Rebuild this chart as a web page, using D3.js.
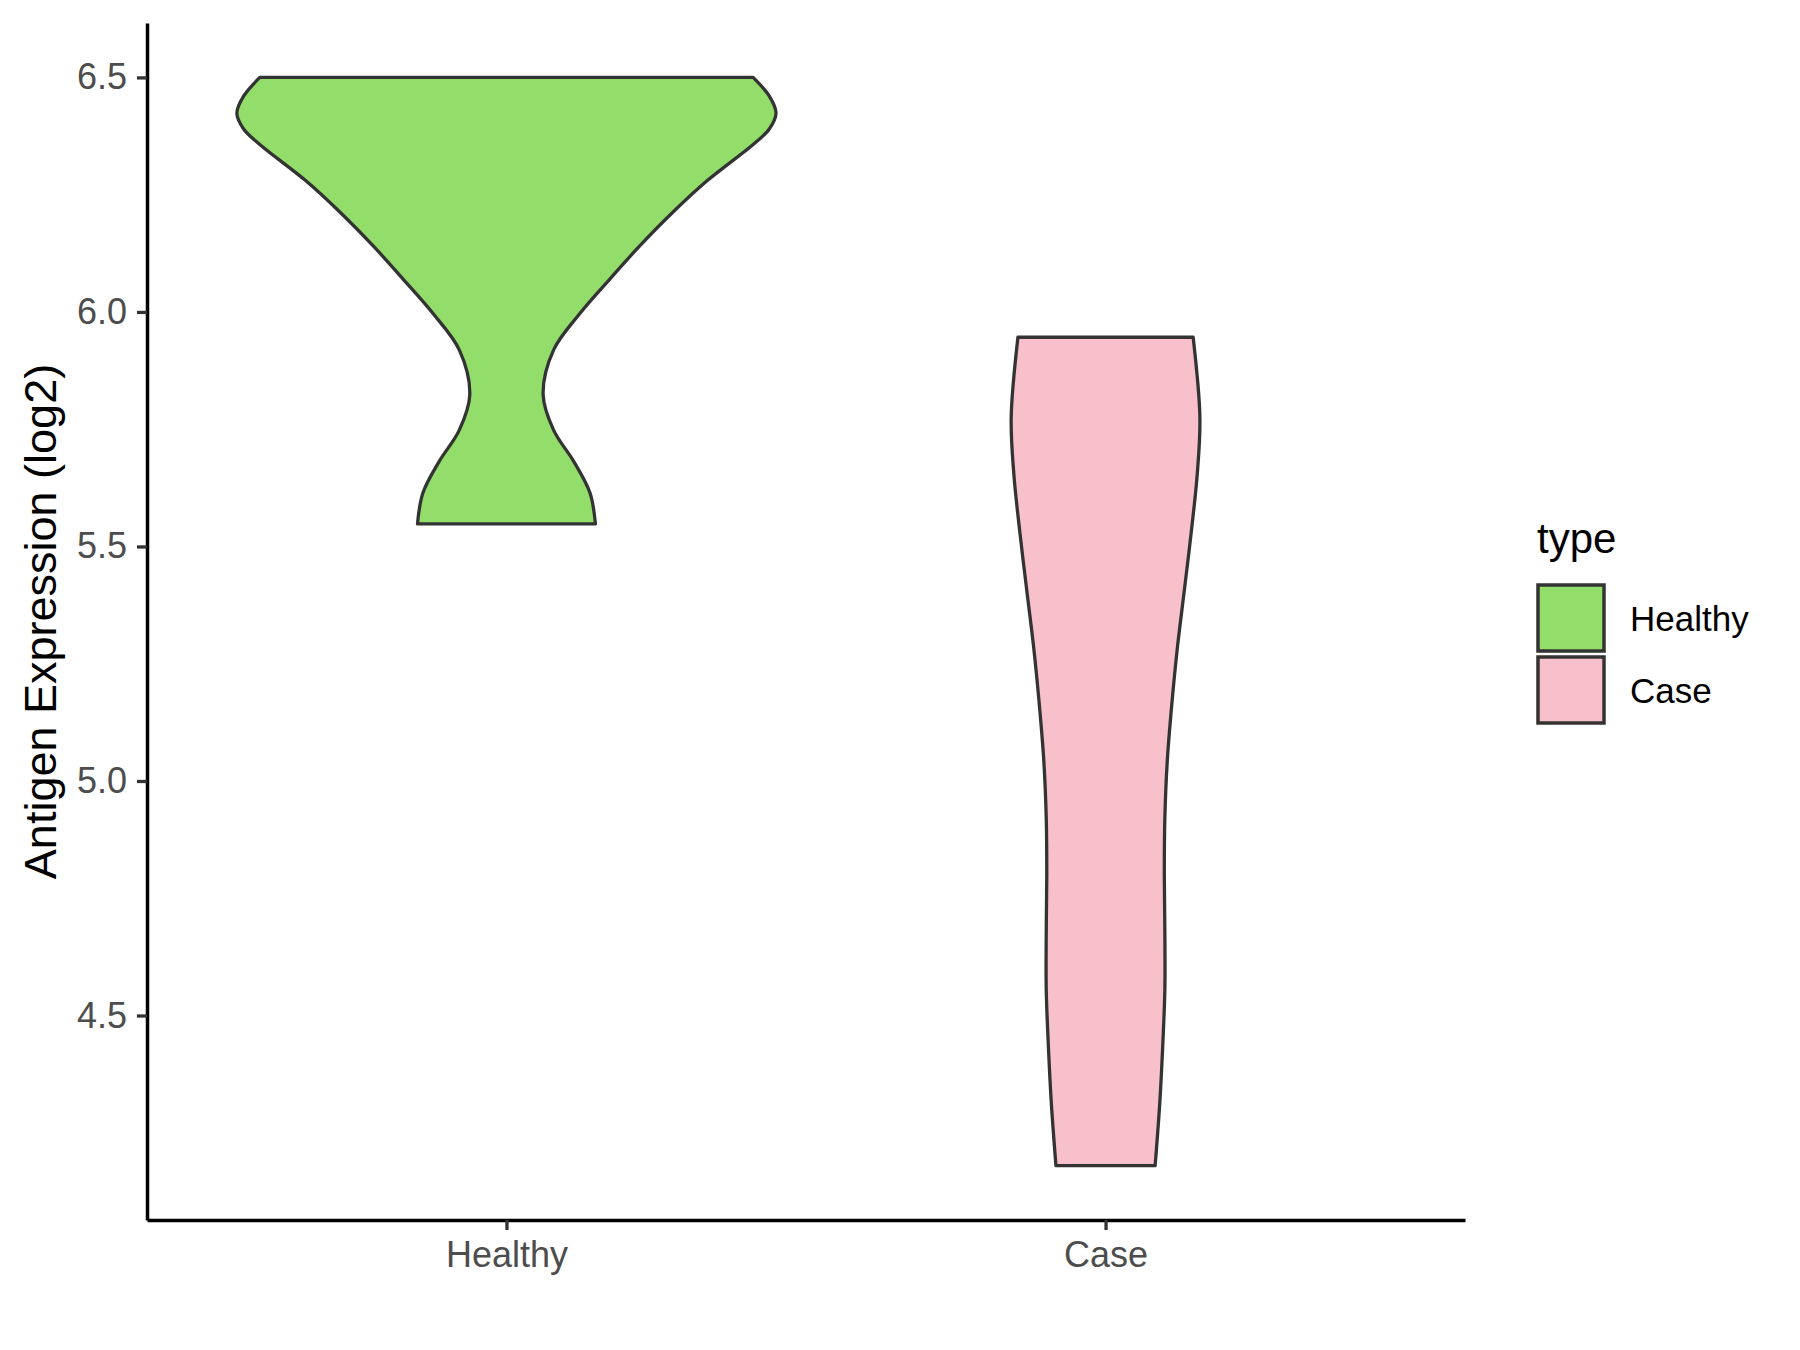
<!DOCTYPE html>
<html>
<head>
<meta charset="utf-8">
<script src="https://cdn.jsdelivr.net/npm/d3@7"></script>
<style>
  body { margin: 0; background: #fff; }
  svg { display: block; font-family: Arial, "Liberation Sans", sans-serif; }
</style>
</head>
<body>
<svg id="chart" width="1800" height="1350"></svg>
<script>
// Données

const groups = ["Healthy", "Case"];
const colors = ["#93DD6A", "#F7C0CB"];

// profils de densité (valeur, largeur relative)
const healthyValues = [6.5, 6.46, 6.424, 6.39, 6.357, 6.28, 6.214, 6.138, 6.071, 5.995, 5.919, 5.824, 5.748, 5.681, 5.614, 5.548];
const healthyDensity = [0.915, 0.975, 1.0, 0.975, 0.915, 0.745, 0.62, 0.49, 0.385, 0.27, 0.175, 0.136, 0.175, 0.25, 0.31, 0.33];

const caseValues = [5.946, 5.775, 5.653, 5.531, 5.41, 5.287, 5.165, 5.043, 4.921, 4.8, 4.678, 4.556, 4.434, 4.312, 4.18];
const caseDensity = [0.325, 0.35, 0.34, 0.318, 0.293, 0.267, 0.246, 0.229, 0.22, 0.218, 0.22, 0.22, 0.212, 0.201, 0.184];

const yTicks = [4.5, 5.0, 5.5, 6.0, 6.5];
const yTitle = "Antigen Expression (log2)";
const legendTitle = "type";

// Dimensions

const margin = { left: 147, right: 1465, top: 23, bottom: 1220 };
const svg = d3.select("#chart");

const y = d3.scaleLinear().domain([4.064, 6.616]).range([margin.bottom, margin.top]);
const x = d3.scalePoint().domain(groups).range([margin.left, margin.right]).padding(0.6);
const halfMax = x.step() * 0.45;

// Violons

const profiles = [
  healthyValues.map((v, i) => ({ v: v, d: healthyDensity[i] })),
  caseValues.map((v, i) => ({ v: v, d: caseDensity[i] })),
];

groups.forEach((g, i) => {
  const cx = x(g);
  const area = d3
    .area()
    .curve(d3.curveCatmullRom)
    .y((d) => y(d.v))
    .x0((d) => cx - d.d * halfMax)
    .x1((d) => cx + d.d * halfMax);

  svg
    .append("path")
    .datum(profiles[i])
    .attr("d", area)
    .attr("fill", colors[i])
    .attr("stroke", "#333333")
    .attr("stroke-width", 3.3)
    .attr("stroke-linejoin", "round");
});

// Axes

const yAxis = svg
  .append("g")
  .attr("transform", "translate(" + margin.left + ",0)")
  .call(
    d3.axisLeft(y)
      .tickValues(yTicks)
      .tickFormat(d3.format(".1f"))
      .tickSize(10)
      .tickSizeOuter(0)
      .tickPadding(10)
  );

const xAxis = svg
  .append("g")
  .attr("transform", "translate(0," + margin.bottom + ")")
  .call(d3.axisBottom(x).tickSize(10).tickSizeOuter(0).tickPadding(11));

[yAxis, xAxis].forEach((ax) => {
  ax.select(".domain").attr("stroke", "#000").attr("stroke-width", 3.5);
  ax.selectAll(".tick line").attr("stroke", "#333").attr("stroke-width", 3.3);
  ax.selectAll(".tick text")
    .attr("fill", "#4D4D4D")
    .style("font-size", "36px")
    .style("font-family", "Arial, 'Liberation Sans', sans-serif");
});

// Titre de l'axe Y

svg
  .append("text")
  .attr("transform", "translate(40," + (margin.top + margin.bottom) / 2 + ") rotate(-90)")
  .attr("text-anchor", "middle")
  .attr("dominant-baseline", "central")
  .style("font-size", "45px")
  .attr("fill", "#000")
  .text(yTitle);

// Légende

const legend = svg.append("g").attr("transform", "translate(1537,0)");

legend
  .append("text")
  .attr("x", 0)
  .attr("y", 553)
  .style("font-size", "42px")
  .attr("fill", "#000")
  .text(legendTitle);

const boxSize = 66;
groups.forEach((g, i) => {
  const top = 585 + i * (boxSize + 6);
  legend
    .append("rect")
    .attr("x", 1)
    .attr("y", top)
    .attr("width", boxSize)
    .attr("height", boxSize)
    .attr("fill", colors[i])
    .attr("stroke", "#333333")
    .attr("stroke-width", 3.5);
  legend
    .append("text")
    .attr("x", 93)
    .attr("y", top + boxSize / 2)
    .attr("dominant-baseline", "central")
    .style("font-size", "35px")
    .attr("fill", "#000")
    .text(g);
});
</script>
</body>
</html>
